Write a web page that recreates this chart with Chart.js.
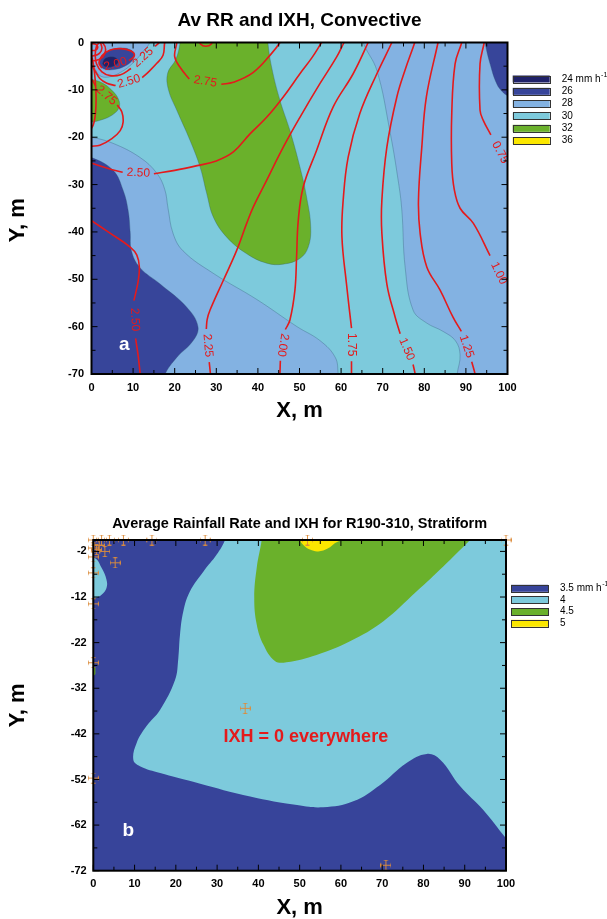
<!DOCTYPE html>
<html>
<head>
<meta charset="utf-8">
<script src="https://cdn.jsdelivr.net/npm/chart.js@4.4.1/dist/chart.umd.min.js"></script>
<style>
  html, body { margin: 0; padding: 0; background: #fff; overflow: hidden; }
  #convective { position: absolute; left: 0; top: 0; }
  #stratiform { position: absolute; left: 0; top: 460px; }
</style>
</head>
<body>
<canvas id="convective" width="607" height="460"></canvas>
<canvas id="stratiform" width="607" height="459"></canvas>
<script>
// ---------- Panel a: convective average rain rate (filled) and IXH (red lines) ----------
const convLevels = ['24', '26', '28', '30', '32', '36'];
const convColors = ['#1f2169', '#37459a', '#83b2e2', '#7dcadc', '#6ab12b', '#fbe700'];
const convXTicks = [0, 10, 20, 30, 40, 50, 60, 70, 80, 90, 100];
const convYTicks = [0, -10, -20, -30, -40, -50, -60, -70];

// rain-rate class outlines, [x m, y m]
const rrBase30 = [[-5, 5], [105, 5], [105, -75], [-5, -75]];
const rrEast28 = [[64.9, 3], [65.3, 0], [68.6, -5.9], [71.7, -18.6], [73.7, -29], [74.6, -35.4], [75.4, -47.5], [77.3, -56.5], [80.5, -59.2], [84.5, -61], [87.5, -63], [88.6, -66], [87.9, -70], [87.6, -73], [105, -73], [105, 3]];
const rrSouthwest28 = [[-3, -19.8], [0, -20], [5.2, -21.3], [11.7, -24.3], [15.7, -27.6], [17.6, -31], [18.4, -35], [19.6, -40.3], [22, -44], [29.2, -48.7], [39.8, -54.3], [49.4, -60], [55, -63], [58.6, -66.5], [59.3, -70], [59.5, -73], [-3, -73]];
const rrSouthwest26 = [[-3, -24.1], [0, -24.3], [5.2, -27], [7.6, -31.2], [8.8, -35.4], [9.3, -40], [9.6, -44], [11.6, -47.5], [16.5, -51], [22.9, -55.9], [25.6, -60], [24.4, -63], [20.5, -66.5], [17.7, -70], [17, -73], [-3, -73]];
const rrNortheast26 = [[94.3, 3], [94.6, 0], [95.8, -4.5], [97.4, -8.7], [99, -10.6], [100.5, -11.4], [103, -12], [103, 3]];
const rrCore32 = [[21.5, 3], [21.3, 0], [20.3, -3.5], [18.3, -6.5], [18.5, -10], [20.5, -14.3], [23.7, -20.7], [26.1, -26.3], [27.7, -31.9], [29.3, -36.9], [32.5, -41.1], [37.3, -44.6], [42.1, -46.6], [46.1, -46.8], [50.1, -45.6], [52.1, -43.2], [52.7, -39], [51.7, -32.6], [50.1, -26.3], [47.7, -18.6], [45.3, -12.2], [43.3, -5.2], [42.4, 0], [42.3, 3]];
const rrWestPatch32 = [[-3, -7.5], [0, -7.8], [2.5, -8.5], [4.8, -10], [6.5, -12], [6.6, -13.8], [5, -15.3], [2.5, -16.3], [0, -16.8], [-3, -17]];
const rrCorner28 = [[-3, 3], [14.5, 3], [14, 0], [12.5, -1.8], [10, -4.3], [7, -6.3], [4, -7.3], [2, -7], [0.8, -5.5], [0, -4], [-3, -4]];
const rrCorner26 = [[1.8, -4.6], [2.5, -3], [4, -1.8], [6.5, -1.2], [9, -1.4], [10.3, -2.4], [9.8, -3.8], [8, -5], [5.5, -5.7], [3, -5.6], [1.8, -4.6]];
const rrCorner24 = [[2.6, -4.5], [3.1, -3.5], [4.5, -3], [6, -3.3], [6.4, -4.3], [5, -5.1], [3.3, -5.1], [2.6, -4.5]];

// IXH contour lines; null leaves the gap where the value is written
const ixh275North = [[20.3, 1], [20.5, 0], [20, -3], [21.5, -5.5], [23.5, -7.7], null, [31.2, -8.8], [34.1, -8.4], [38.9, -6.3], [43.2, -2.4], [45.3, 0], [45.6, 1]];
const ixh275West = [[-1, -7.5], [0, -7.8], [1, -9.2], null, [6.2, -13.2], [7.3, -14.7], [7.6, -16.8], [6.9, -18.6], [4.9, -20.3], [2, -21.7], [0, -21.9], [-1, -22]];
const ixh250North = [[18, 1], [17.6, 0], [17.2, -2.7], [15.7, -4.4], [13.6, -6.3], [12.2, -7.4], null, [5.8, -9.1], [3.7, -8.6], [2, -7.6], [0.8, -5.9], [0, -4.9], [-1, -4.5]];
const ixh250Mid = [[-1, -25.3], [0, -25.5], [4, -26.6], [7.5, -27.4], null, [15, -27.7], [20, -27], [25.4, -26], [30, -25], [34.1, -23.1], [38.1, -19.3], [42.1, -15.8], [46.1, -11.5], [50.1, -6.6], [53, -3.2], [55.3, 0], [56, 1]];
const ixh250South = [[-1, -37], [0, -37.6], [4, -40], [9.3, -43.2], [10.9, -44.9], [11.5, -47.4], [11.2, -50.5], [10.2, -54.5], null, [10.6, -62.5], [11.2, -66], [11.7, -70], [11.8, -71]];
const ixh225North = [[17, 1], [16.3, 0], [15.3, -0.8], null, [9.5, -5.5], [7, -6.8], [4.5, -7], [2.5, -6.2], [1.2, -4.5], [0.9, -2.5], [1.2, -0.8], [1.8, 0], [2, 1]];
const ixh225 = [[61.3, 1], [60.7, 0], [58.9, -3.1], [54.9, -8.7], [50.1, -15.8], [46.1, -22.1], [42.1, -29.1], [38.9, -34.7], [37.3, -38.2], [34.9, -43.9], [31.7, -50.2], [28.5, -56.5], [27.8, -58.5], [27.6, -60.5], null, [28.3, -67.5], [28.6, -70], [28.7, -71]];
const ixh200North = [[9, -3.8], [10.3, -2.8], [9.5, -1.8], [7, -1.3], [4.5, -1.6], [2.5, -2.8], [1.8, -4.3], [2.5, -5.4], null, [9, -3.8]];
const ixh200 = [[66.9, 1], [66.5, 0], [62.9, -6.6], [58.1, -13.6], [54.1, -22.8], [50.9, -30.5], [49.7, -37.6], [49.3, -45.3], [48.9, -52.3], [47.7, -58.6], [46.6, -60.6], null, [45.4, -67.2], [45.3, -70], [45.3, -71]];
const ixh175 = [[72.6, 1], [72.2, 0], [68.6, -6.6], [64.5, -15], [61.7, -24.2], [60.5, -33.3], [60.2, -41], [61.3, -51], [62.5, -60.3], null, [62.5, -67.3], [62.5, -70], [62.5, -71]];
const ixh150 = [[77.9, 1], [77.7, 0], [75.5, -5.5], [73.4, -11.5], [71, -22.1], [69.8, -33.3], [69.8, -40.3], [71, -51], [73, -58], [74.2, -61.5], null, [77.3, -68], [77.8, -70], [77.9, -71]];
const ixh125 = [[83.5, 1], [83.3, 0], [80.5, -11.5], [79.4, -22.1], [78.6, -33.3], [79, -40.3], [80.6, -47.4], [83.8, -52.3], [86.9, -58], [88.9, -61], null, [91.4, -67.4], [92.2, -70], [92.3, -71]];
const ixh100 = [[89.2, 1], [89, 0], [87.4, -4.5], [86.6, -15], [86.6, -25.6], [87.2, -31], [88.6, -35], [91.8, -38.2], [95.8, -45], null, [100, -52.5], [101, -54]];
const ixh075 = [[94.5, 1], [94.4, 0], [93.4, -4.5], [93.4, -14.3], [94.2, -16.5], [96, -19.5], null, [100.5, -27], [101, -28]];
const ixhWestEdge = [[-1, -18.2], [0, -18.1], [0.8, -16], [1.1, -12], [0.9, -8], [0.5, -5], [0, -3], [-1, -2.5]];
const ixhCornerA = [[-1, -0.3], [0.8, -0.3], [1.5, -0.9], [1, -1.6], [0, -1.7], [-1, -1.7]];
const ixhCornerB = [[-1, 0.5], [1.6, 0.3], [2.5, -1], [1.9, -2.3], [0.5, -2.8], [-1, -2.8]];
const ixhCornerC = [[0.6, 1], [2.8, -0.2], [3.4, -1.6], [2.7, -3.1], [1, -3.8], [-1, -3.8]];
const ixhNorthDimple = [[25.8, 1], [26.2, -0.3], [27.5, -0.8], [28.8, -0.3], [29.2, 1]];

const convNotes = [{ text: 'a', x: 7.9, y: -63.8, size: 19, color: '#ffffff' }];

// ---------- Panel b: stratiform average rain rate ----------
const stratLevels = ['3.5', '4', '4.5', '5'];
const stratColors = ['#37449a', '#7dcadc', '#6ab12b', '#fbe700'];
const stratXTicks = [0, 10, 20, 30, 40, 50, 60, 70, 80, 90, 100];
const stratYTicks = [-2, -12, -22, -32, -42, -52, -62, -72];

const strBase35 = [[-5, 5], [105, 5], [105, -77], [-5, -77]];
const strMain40 = [[32.3, 3], [31.9, 0.5], [29.9, -2.7], [26.7, -6.4], [23.4, -10.8], [21.8, -15.2], [21, -20.3], [20.6, -25.4], [19.8, -30.2], [16.2, -36.7], [12.9, -40.3], [10.5, -44], [9.7, -47.7], [11.3, -49.1], [16.2, -50.6], [24.2, -52.5], [36.3, -55.4], [48.5, -57.5], [55.7, -58.1], [63, -56.8], [69.5, -53.2], [75.9, -48.4], [80.8, -46.4], [84, -47.6], [88.9, -53.5], [94.5, -58.7], [100, -64.9], [103, -68], [103, 3]];
const strWest40 = [[-3, -3.3], [0.4, -3.5], [2, -5.6], [3.2, -8.2], [3.2, -10], [2, -11.5], [0.4, -12.2], [-3, -12.4]];
const strCore45 = [[41, 3], [40.8, 0.5], [39.6, -5.6], [39, -12.2], [39.6, -18], [41.2, -22.4], [44, -26], [46.8, -26.3], [54.1, -24.7], [62.2, -21.7], [70.3, -17.3], [78.3, -10.8], [84.8, -5.3], [91.3, 0.5], [94, 3]];
const strPeak50 = [[49.9, 3], [50.1, 0.5], [50.9, -0.6], [52.5, -1.6], [54.5, -2], [56.9, -1.3], [58.5, -0.2], [59.7, 0.5], [60, 3]];
const strSliver45 = [[-2, -26.8], [0.3, -27.3], [0.5, -28.2], [0.3, -29.1], [-2, -29.5]];

// rain gauge sites
const gaugeX = [0, 2.0, 3.9, 7.3, 14.2, 27.1, 51.9, 100, 0, 1.45, 0.8, 2.8, 0, 5.3, 0, 0, 0, 36.8, 0, 70.9];
const gaugeY = [0.5, 0.5, 0.5, 0.5, 0.5, 0.5, 0.5, 0.5, -1.25, -0.7, -1.6, -2, -3.2, -4.5, -6.7, -13.5, -26.4, -36.4, -51.7, -70.8];

const stratNotes = [
  { text: 'IXH = 0 everywhere', x: 51.5, y: -42.7, size: 18, color: '#e41a1c' },
  { text: 'b', x: 8.5, y: -63.2, size: 19, color: '#ffffff' }
];

// ---------- drawing helpers ----------
const FONT = '"Liberation Sans", Arial, Helvetica, sans-serif';
const RED = '#e41a1c';
Chart.defaults.font.family = FONT;
Chart.defaults.color = '#000';

const toXY = pts => pts.map(p => (p ? { x: p[0], y: p[1] } : { x: null, y: null }));

function region(pts, color, edge) {
  return {
    data: toXY(pts), showLine: true, fill: 'shape', backgroundColor: color,
    borderColor: edge || 'transparent', borderWidth: edge ? 0.6 : 1,
    pointRadius: 0, pointHoverRadius: 0, tension: 0.4
  };
}
function contour(pts, value) {
  return {
    data: toXY(pts), showLine: true, fill: false, borderColor: RED, borderWidth: 1.6,
    pointRadius: 0, pointHoverRadius: 0, tension: 0.4, contourValue: value
  };
}
// first entry is painted first (bottom)
const stack = list => list.map((d, i, arr) => Object.assign(d, { order: arr.length - i }));

// value labels in the gaps of the IXH lines
const contourLabels = {
  id: 'contourLabels',
  afterDatasetsDraw(chart) {
    const { ctx, chartArea: a } = chart;
    ctx.save();
    ctx.beginPath(); ctx.rect(a.left, a.top, a.width, a.height); ctx.clip();
    ctx.font = '12px ' + FONT; ctx.fillStyle = RED;
    ctx.textAlign = 'center'; ctx.textBaseline = 'middle';
    chart.data.datasets.forEach((ds, i) => {
      if (!ds.contourValue) return;
      const pts = chart.getDatasetMeta(i).data;
      for (let k = 1; k < ds.data.length - 1; k++) {
        if (ds.data[k].y !== null) continue;
        const p = pts[k - 1], q = pts[k + 1];
        let ang = Math.atan2(q.y - p.y, q.x - p.x);
        if (ang > 1.75) ang -= Math.PI;
        if (ang <= -1.4) ang += Math.PI;
        ctx.save();
        ctx.translate((p.x + q.x) / 2, (p.y + q.y) / 2);
        ctx.rotate(ang);
        ctx.fillText(ds.contourValue, 0, 0);
        ctx.restore();
      }
    });
    ctx.restore();
  }
};

function notesPlugin(notes) {
  return {
    id: 'notes',
    afterDatasetsDraw(chart) {
      const { ctx, scales: { x, y } } = chart;
      ctx.save();
      ctx.textAlign = 'center'; ctx.textBaseline = 'middle';
      notes.forEach(n => {
        ctx.font = 'bold ' + n.size + 'px ' + FONT;
        ctx.fillStyle = n.color;
        ctx.fillText(n.text, x.getPixelForValue(n.x), y.getPixelForValue(n.y));
      });
      ctx.restore();
    }
  };
}

// inward tick marks on all four sides and the plot frame
function framePlugin(xTicks, yTicks) {
  const mids = t => { const s = [...t].sort((a, b) => a - b); return s.slice(1).map((v, i) => (v + s[i]) / 2); };
  return {
    id: 'frame',
    afterDatasetsDraw(chart) {
      const { ctx, chartArea: a, scales: { x, y } } = chart;
      ctx.save();
      ctx.strokeStyle = '#000'; ctx.lineWidth = 1;
      ctx.beginPath();
      const xm = xTicks.map(v => [v, 6]).concat(mids(xTicks).map(v => [v, 4]));
      const ym = yTicks.map(v => [v, 6]).concat(mids(yTicks).map(v => [v, 4]));
      xm.forEach(([v, len]) => {
        const p = x.getPixelForValue(v);
        ctx.moveTo(p, a.bottom); ctx.lineTo(p, a.bottom - len);
        ctx.moveTo(p, a.top); ctx.lineTo(p, a.top + len);
      });
      ym.forEach(([v, len]) => {
        const p = y.getPixelForValue(v);
        ctx.moveTo(a.left, p); ctx.lineTo(a.left + len, p);
        ctx.moveTo(a.right, p); ctx.lineTo(a.right - len, p);
      });
      ctx.stroke();
      ctx.lineWidth = 2;
      ctx.strokeRect(a.left, a.top, a.width, a.height);
      ctx.restore();
    }
  };
}

function legendPlugin(levels, colors, firstRow, rowStep, boxGap, textGap) {
  return {
    id: 'classLegend',
    afterDraw(chart) {
      const { ctx, chartArea: a } = chart;
      ctx.save();
      levels.forEach((lv, i) => {
        const cy = a.top + firstRow + i * rowStep;
        const bx = a.right + boxGap;
        ctx.fillStyle = colors[i];
        ctx.fillRect(bx, cy - 3.5, 37, 7);
        ctx.strokeStyle = '#333'; ctx.lineWidth = 1;
        ctx.strokeRect(Math.round(bx) + 0.5, Math.round(cy - 3.5) + 0.5, 37, 7);
        ctx.fillStyle = '#000'; ctx.textBaseline = 'middle'; ctx.textAlign = 'left';
        ctx.font = '10px ' + FONT;
        const tx = a.right + textGap;
        const label = i === 0 ? lv + ' mm h' : lv;
        ctx.fillText(label, tx, cy);
        if (i === 0) {
          const w = ctx.measureText(label).width;
          ctx.font = '7px ' + FONT;
          ctx.fillText('-1', tx + w + 0.5, cy - 4);
        }
      });
      ctx.restore();
    }
  };
}

function yTitlePlugin(text, cx, dy) {
  return {
    id: 'yTitle',
    afterDraw(chart) {
      const { ctx, chartArea: a } = chart;
      ctx.save();
      ctx.translate(cx, (a.top + a.bottom) / 2 + dy);
      ctx.rotate(-Math.PI / 2);
      ctx.font = 'bold 22px ' + FONT; ctx.fillStyle = '#000';
      ctx.textAlign = 'center'; ctx.textBaseline = 'middle';
      ctx.fillText(text, 0, 0);
      ctx.restore();
    }
  };
}

function axes(xTicks, yTicks, xr, yr, xHeight, yWidth, xPad, yPad, xTitlePad) {
  const tickFont = { size: 11, weight: 'bold' };
  return {
    x: {
      type: 'linear', position: 'bottom', min: xr[0], max: xr[1],
      afterBuildTicks: s => { s.ticks = xTicks.map(v => ({ value: v })); },
      afterFit: s => { s.height = xHeight; },
      grid: { display: false, drawTicks: false }, border: { display: false },
      ticks: { font: tickFont, color: '#000', padding: xPad, maxRotation: 0, autoSkip: false, callback: v => String(v) },
      title: { display: true, text: 'X, m', color: '#000', font: { size: 22, weight: 'bold', lineHeight: 1 }, padding: { top: 0, bottom: xTitlePad } }
    },
    y: {
      type: 'linear', position: 'left', min: yr[0], max: yr[1],
      afterBuildTicks: s => { s.ticks = yTicks.map(v => ({ value: v })); },
      afterFit: s => { s.width = yWidth; },
      grid: { display: false, drawTicks: false }, border: { display: false },
      ticks: { font: tickFont, color: '#000', padding: yPad, autoSkip: false, callback: v => String(v) }
    }
  };
}

// ---------- panel a ----------
const edgeA = 'rgba(45,85,115,0.55)';
const convSets = stack([
  region(rrBase30, convColors[3]),
  region(rrEast28, convColors[2], edgeA),
  region(rrSouthwest28, convColors[2], edgeA),
  region(rrSouthwest26, convColors[1], edgeA),
  region(rrNortheast26, convColors[1], edgeA),
  region(rrCore32, convColors[4], edgeA),
  region(rrWestPatch32, convColors[4], edgeA),
  region(rrCorner28, convColors[2], edgeA),
  region(rrCorner26, convColors[1], edgeA),
  region(rrCorner24, convColors[0], edgeA),
  contour(ixhWestEdge, null),
  contour(ixhCornerA, null),
  contour(ixhCornerB, null),
  contour(ixhCornerC, null),
  contour(ixhNorthDimple, null),
  contour(ixh275North, '2.75'),
  contour(ixh275West, '2.75'),
  contour(ixh250North, '2.50'),
  contour(ixh250Mid, '2.50'),
  contour(ixh250South, '2.50'),
  contour(ixh225North, '2.25'),
  contour(ixh225, '2.25'),
  contour(ixh200North, '2.00'),
  contour(ixh200, '2.00'),
  contour(ixh175, '1.75'),
  contour(ixh150, '1.50'),
  contour(ixh125, '1.25'),
  contour(ixh100, '1.00'),
  contour(ixh075, '0.75')
]);

new Chart(document.getElementById('convective'), {
  type: 'scatter',
  data: { datasets: convSets },
  options: {
    responsive: false, animation: false, events: [],
    layout: { padding: { left: 0, right: 99.5, top: 0, bottom: 0 }, autoPadding: false },
    elements: { line: { capBezierPoints: false } },
    plugins: {
      legend: { display: false }, tooltip: { enabled: false },
      title: { display: true, text: 'Av RR and IXH, Convective', fullSize: false, color: '#000',
               font: { size: 19, weight: 'bold' }, padding: { top: 9, bottom: 10.7 } }
    },
    scales: axes(convXTicks, convYTicks, [0, 100], [-70, 0], 86, 91.5, 7.4, 7.5, 38)
  },
  plugins: [contourLabels, notesPlugin(convNotes), framePlugin(convXTicks, convYTicks),
            legendPlugin(convLevels, convColors, 36.5, 12.33, 5.2, 54.2), yTitlePlugin('Y, m', 17.7, 12)]
});

// ---------- panel b ----------
const gaugeGlyph = (() => {
  const c = document.createElement('canvas');
  c.width = 11; c.height = 11;
  const g = c.getContext('2d');
  g.strokeStyle = 'rgba(220,140,60,0.95)'; g.lineWidth = 1;
  g.beginPath();
  g.moveTo(0.5, 5.5); g.lineTo(10.5, 5.5); g.moveTo(5.5, 0.5); g.lineTo(5.5, 10.5);
  g.moveTo(0.5, 3.5); g.lineTo(0.5, 7.5); g.moveTo(10.5, 3.5); g.lineTo(10.5, 7.5);
  g.moveTo(3.5, 0.5); g.lineTo(7.5, 0.5); g.moveTo(3.5, 10.5); g.lineTo(7.5, 10.5);
  g.stroke();
  return c;
})();

const stratSets = stack([
  region(strBase35, stratColors[0]),
  region(strMain40, stratColors[1]),
  region(strWest40, stratColors[1]),
  region(strCore45, stratColors[2]),
  region(strSliver45, stratColors[2]),
  region(strPeak50, stratColors[3]),
  { data: gaugeX.map((x, i) => ({ x, y: gaugeY[i] })), showLine: false, pointStyle: gaugeGlyph,
    pointRadius: 5, clip: false }
]);

new Chart(document.getElementById('stratiform'), {
  type: 'scatter',
  data: { datasets: stratSets },
  options: {
    responsive: false, animation: false, events: [],
    layout: { padding: { left: 0, right: 101, top: 0, bottom: 0 }, autoPadding: false },
    elements: { line: { capBezierPoints: false } },
    plugins: {
      legend: { display: false }, tooltip: { enabled: false },
      title: { display: true, text: 'Average Rainfall Rate and IXH for R190-310, Stratiform', fullSize: false,
               color: '#000', font: { size: 14.5, weight: 'bold' }, padding: { top: 55.3, bottom: 7.3 } }
    },
    scales: axes(stratXTicks, stratYTicks, [0, 100], [-72, 0.5], 48.3, 93.3, 6.7, 6.6, 0)
  },
  plugins: [notesPlugin(stratNotes), framePlugin(stratXTicks, stratYTicks),
            legendPlugin(stratLevels, stratColors, 48.3, 11.67, 5, 54), yTitlePlugin('Y, m', 18, 0)]
});
</script>
</body>
</html>
